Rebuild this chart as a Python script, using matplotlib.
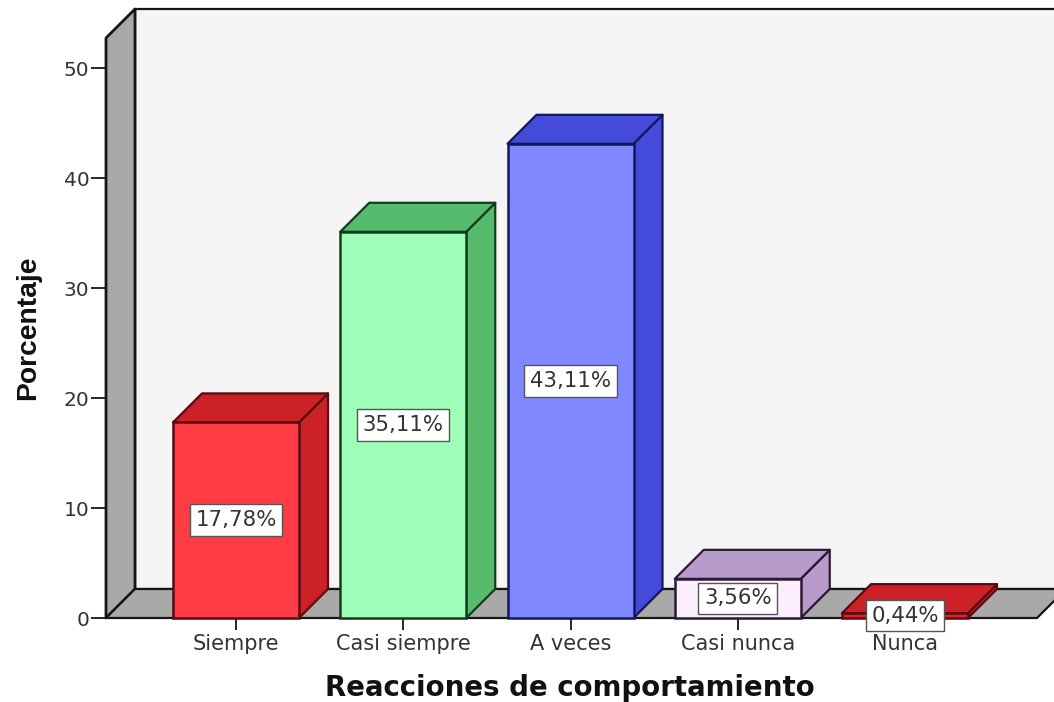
import matplotlib
matplotlib.use("Agg")
import matplotlib.pyplot as plt
from matplotlib.patches import Polygon, Rectangle

categories = ["Siempre", "Casi siempre", "A veces", "Casi nunca", "Nunca"]
values = [17.78, 35.11, 43.11, 3.56, 0.44]
labels = ["17,78%", "35,11%", "43,11%", "3,56%", "0,44%"]
front_colors = ["#FF3B44", "#9FFFB9", "#8088FF", "#FDEEFD", "#E32028"]
side_colors = ["#CC2127", "#56BB6D", "#444BDA", "#B89ACB", "#C92026"]
top_colors = ["#CC2127", "#56BB6D", "#444BDA", "#B89ACB", "#CC2127"]
edge_colors = ["#5A0A10", "#123D1C", "#14185A", "#2A1A35", "#5A0A10"]
y_ticks = [0, 10, 20, 30, 40, 50]

W, H = 1054, 702
L, R, B, T = 106, 1037, 618, 38      # axes box, px
PX_Y = 11.0                          # px per percentage unit
PX_X = 167.25                        # px per category
X0 = 236.0                           # px of first category
BAR_PX = 126.0
DEPTH = 29.0

fig = plt.figure(figsize=(W / 100, H / 100), dpi=100, facecolor="white")
ax = fig.add_axes([L / W, 1 - B / H, (R - L) / W, (B - T) / H])
ax.set_xlim((L - X0) / PX_X, (R - X0) / PX_X)
ax.set_ylim(0, (B - T) / PX_Y)
ax.patch.set_visible(False)
for s in ax.spines.values():
    s.set_visible(False)

dx = DEPTH / PX_X
dy = DEPTH / PX_Y
x0, x1 = ax.get_xlim()
y0, y1 = ax.get_ylim()
line = "#151515"

def poly(pts, fc, ec=line, lw=1.6, z=1):
    ax.add_patch(Polygon(pts, closed=True, facecolor=fc, edgecolor=ec, linewidth=lw,
                         joinstyle="round", zorder=z, clip_on=False))

# back wall, left wall, floor
poly([(x0 + dx, dy), (x1 + dx, dy), (x1 + dx, y1 + dy), (x0 + dx, y1 + dy)], "#F5F5F5", z=1)
poly([(x0, 0), (x0 + dx, dy), (x0 + dx, y1 + dy), (x0, y1)], "#A9A9A9", lw=2.0, z=2)
poly([(x0, 0), (x1, 0), (x1 + dx, dy), (x0 + dx, dy)], "#A9A9A9", z=2)

# bars
bw = BAR_PX / PX_X
for i, v in enumerate(values):
    a, b = i - bw / 2, i + bw / 2
    ec = edge_colors[i]
    poly([(b, 0), (b + dx, dy), (b + dx, v + dy), (b, v)], side_colors[i], ec=ec, z=3 + i * 0.01)
    poly([(a, v), (b, v), (b + dx, v + dy), (a + dx, v + dy)], top_colors[i], ec=ec, z=3 + i * 0.01)
    ax.add_patch(Rectangle((a, 0), bw, v, facecolor=front_colors[i], edgecolor=ec,
                           linewidth=1.8, zorder=3.5, clip_on=False))
    ax.text(i, v / 2, labels[i], ha="center", va="center", fontsize=15.3,
            family="DejaVu Sans", color="#333333", zorder=6,
            bbox=dict(boxstyle="square,pad=0.27", facecolor="white", edgecolor="#555555", linewidth=1.0))

ax.set_xticks(range(len(categories)))
ax.set_xticklabels(categories, family="DejaVu Sans", fontsize=15, color="#333333")
ax.set_yticks(y_ticks)
ax.set_yticklabels([str(t) for t in y_ticks], family="DejaVu Sans", fontsize=14.5, color="#333333")
ax.tick_params(axis="x", length=8.5, width=1.3, color=line, pad=3)
ax.tick_params(axis="y", length=11, width=1.3, color=line, pad=1)

fig.text(570 / W, 1 - 688 / H, "Reacciones de comportamiento", ha="center", va="center",
         family="DejaVu Sans", fontweight="bold", fontsize=19.9, color="#111111")
fig.text(28 / W, 1 - 328 / H, "Porcentaje", ha="center", va="center", rotation=90,
         family="Liberation Sans", fontweight="bold", fontsize=20.3, color="#111111")

fig.savefig("out.png", dpi=100)
